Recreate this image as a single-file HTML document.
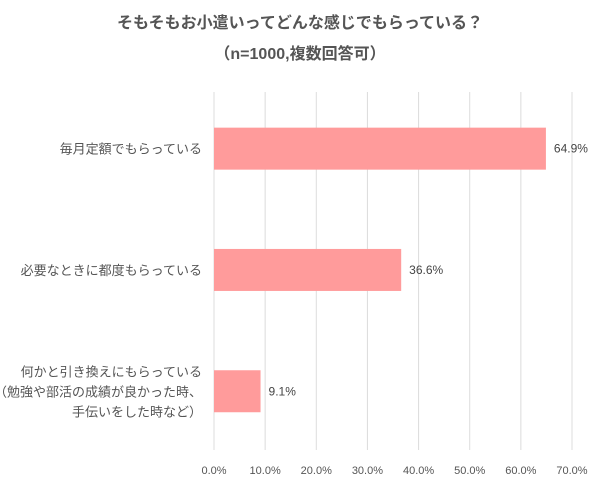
<!DOCTYPE html>
<html><head><meta charset="utf-8">
<style>
body{margin:0;background:#fff;}
svg{display:block;font-family:"Liberation Sans","Noto Sans CJK JP",sans-serif;}
</style></head>
<body>
<svg id="chart" width="600" height="483" viewBox="0 0 600 483">
<text x="300" y="28" text-anchor="middle" font-size="16" font-weight="bold" fill="#555">そもそもお小遣いってどんな感じでもらっている？</text>
<text x="300" y="59" text-anchor="middle" font-size="16" font-weight="bold" fill="#555">（n=1000,複数回答可）</text>
<g id="grid"></g>
<g id="bars"></g>
<g id="ticks"></g>
<g id="cats"></g>
</svg>
<script>
const categories=[["毎月定額でもらっている"],["必要なときに都度もらっている"],["何かと引き換えにもらっている","（勉強や部活の成績が良かった時、","手伝いをした時など）"]];
const values=[64.9,36.6,9.1];
const tickValues=[0,10,20,30,40,50,60,70];
const tickLabels=["0.0%","10.0%","20.0%","30.0%","40.0%","50.0%","60.0%","70.0%"];
const NS="http://www.w3.org/2000/svg";
const x0=214,x1=572,yTop=92,yBot=450;
const xs=v=>x0+(v/70)*(x1-x0);
const bandTop=90,band=121.3,barH=42;
const yc=i=>bandTop+band*i+band/2-2;
function mk(t,a,p){const e=document.createElementNS(NS,t);for(const k in a)e.setAttribute(k,a[k]);p.appendChild(e);return e;}
const g=document.getElementById('grid'),b=document.getElementById('bars'),tk=document.getElementById('ticks'),c=document.getElementById('cats');
tickValues.forEach((v,i)=>{
 const l=mk('line',{x1:xs(v),x2:xs(v),y1:yTop,y2:yBot,stroke:'#dcdcdc','stroke-width':1},g);
 
 
 const t=mk('text',{x:xs(v),y:474,'text-anchor':'middle','font-size':11,fill:'#555'},tk);
 t.textContent=tickLabels[i];
 
 
});
values.forEach((v,i)=>{
 const y=yc(i);
 const r=mk('rect',{x:x0,y:y-barH/2,width:xs(v)-x0,height:barH,fill:'#ff9b9b'},b);
 
 
 const t=mk('text',{x:xs(v)+8,y:y+4,'font-size':12,fill:'#444'},b);
 t.textContent=v.toFixed(1)+'%';
 
 
 const lines=categories[i];
 const lh=20;
 lines.forEach((s,j)=>{
  const ty=y+5+(j-(lines.length-1)/2)*lh;
  const ct=mk('text',{x:202,y:ty,'text-anchor':'end','font-size':13,fill:'#555'},c);
  ct.textContent=s;
  
  
 });
});
</script>
</body></html>
